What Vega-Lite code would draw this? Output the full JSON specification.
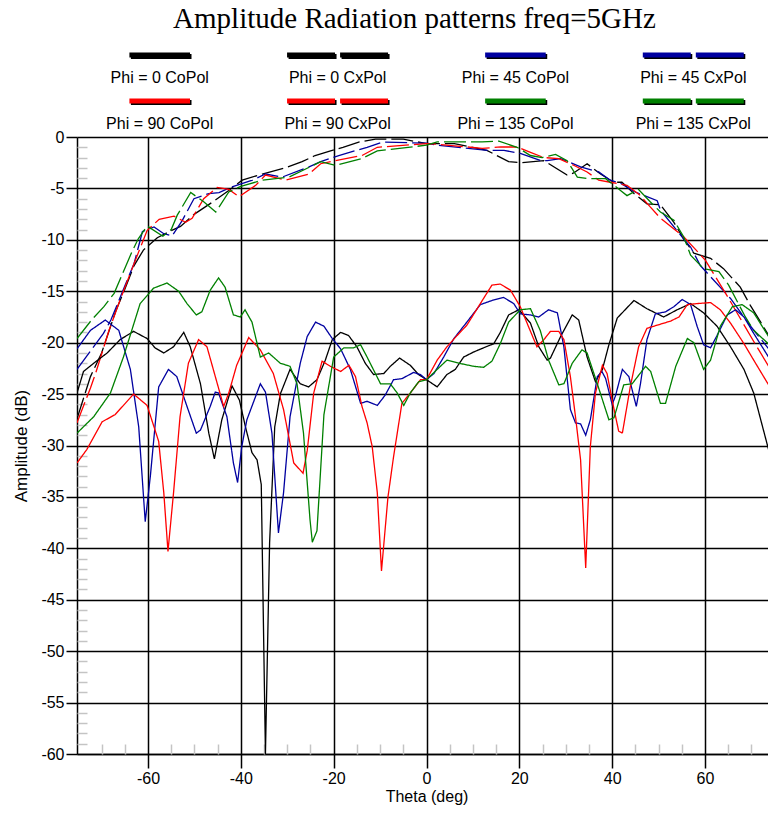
{
"$schema": "https://vega.github.io/schema/vega-lite/v6.json",
"background": "white",
"padding": {"left": 12, "top": 5, "right": 0, "bottom": 4},
"title": {"text": "Amplitude Radiation patterns freq=5GHz", "font": "Liberation Serif", "fontSize": 29, "fontWeight": "normal", "color": "#000", "anchor": "middle", "offset": -2, "dx": 20},
"bounds": "flush",
"spacing": 13,
"config": {"view": {"stroke": null}},
"datasets": {
"legend": [
{"series": "Phi = 0 CoPol", "col": 1, "row": 1},
{"series": "Phi = 0 CxPol", "col": 2, "row": 1},
{"series": "Phi = 45 CoPol", "col": 3, "row": 1},
{"series": "Phi = 45 CxPol", "col": 4, "row": 1},
{"series": "Phi = 90 CoPol", "col": 1, "row": 2},
{"series": "Phi = 90 CxPol", "col": 2, "row": 2},
{"series": "Phi = 135 CoPol", "col": 3, "row": 2},
{"series": "Phi = 135 CxPol", "col": 4, "row": 2}
],
"curves": [
{"series":"Phi = 0 CoPol","theta":-75.3,"dB":-27.4},{"series":"Phi = 0 CoPol","theta":-72.4,"dB":-23.3},{"series":"Phi = 0 CoPol","theta":-70,"dB":-21},{"series":"Phi = 0 CoPol","theta":-68.8,"dB":-19.4},{"series":"Phi = 0 CoPol","theta":-67,"dB":-17},{"series":"Phi = 0 CoPol","theta":-65,"dB":-14.8},{"series":"Phi = 0 CoPol","theta":-63,"dB":-12.5},{"series":"Phi = 0 CoPol","theta":-61,"dB":-11},{"series":"Phi = 0 CoPol","theta":-58,"dB":-9.8},{"series":"Phi = 0 CoPol","theta":-55,"dB":-9.1},{"series":"Phi = 0 CoPol","theta":-53,"dB":-8.7},{"series":"Phi = 0 CoPol","theta":-50,"dB":-7.5},{"series":"Phi = 0 CoPol","theta":-46,"dB":-6.3},{"series":"Phi = 0 CoPol","theta":-42.6,"dB":-5.2},{"series":"Phi = 0 CoPol","theta":-39.7,"dB":-4.2},{"series":"Phi = 0 CoPol","theta":-35.4,"dB":-3.6},{"series":"Phi = 0 CoPol","theta":-30.4,"dB":-3},{"series":"Phi = 0 CoPol","theta":-26.8,"dB":-2.4},{"series":"Phi = 0 CoPol","theta":-24,"dB":-1.8},{"series":"Phi = 0 CoPol","theta":-18,"dB":-1},{"series":"Phi = 0 CoPol","theta":-14.6,"dB":-0.5},{"series":"Phi = 0 CoPol","theta":-11,"dB":-0.2},{"series":"Phi = 0 CoPol","theta":-5,"dB":-0.2},{"series":"Phi = 0 CoPol","theta":0,"dB":-0.65},{"series":"Phi = 0 CoPol","theta":6,"dB":-0.65},{"series":"Phi = 0 CoPol","theta":13,"dB":-1.3},{"series":"Phi = 0 CoPol","theta":17.7,"dB":-2.4},{"series":"Phi = 0 CoPol","theta":20.2,"dB":-2.5},{"series":"Phi = 0 CoPol","theta":25.3,"dB":-2.3},{"series":"Phi = 0 CoPol","theta":30.3,"dB":-3.7},{"series":"Phi = 0 CoPol","theta":31.7,"dB":-3.5},{"series":"Phi = 0 CoPol","theta":34.6,"dB":-2.6},{"series":"Phi = 0 CoPol","theta":37.5,"dB":-3.6},{"series":"Phi = 0 CoPol","theta":40.3,"dB":-4.4},{"series":"Phi = 0 CoPol","theta":42.1,"dB":-4.4},{"series":"Phi = 0 CoPol","theta":44.7,"dB":-5.5},{"series":"Phi = 0 CoPol","theta":47.5,"dB":-6.5},{"series":"Phi = 0 CoPol","theta":50.4,"dB":-6.6},{"series":"Phi = 0 CoPol","theta":53.3,"dB":-8.3},{"series":"Phi = 0 CoPol","theta":55.4,"dB":-9.9},{"series":"Phi = 0 CoPol","theta":57.6,"dB":-11.3},{"series":"Phi = 0 CoPol","theta":61.2,"dB":-11.8},{"series":"Phi = 0 CoPol","theta":64,"dB":-12.8},{"series":"Phi = 0 CoPol","theta":67.6,"dB":-14.6},{"series":"Phi = 0 CoPol","theta":69.8,"dB":-16.4},{"series":"Phi = 0 CoPol","theta":72,"dB":-18},{"series":"Phi = 0 CoPol","theta":75.3,"dB":-20.5},
{"series":"Phi = 45 CoPol","theta":-75.3,"dB":-22.6},{"series":"Phi = 45 CoPol","theta":-69.6,"dB":-19.1},{"series":"Phi = 45 CoPol","theta":-68,"dB":-17.8},{"series":"Phi = 45 CoPol","theta":-65,"dB":-14.5},{"series":"Phi = 45 CoPol","theta":-63,"dB":-12.3},{"series":"Phi = 45 CoPol","theta":-61.2,"dB":-9.2},{"series":"Phi = 45 CoPol","theta":-58.7,"dB":-8.75},{"series":"Phi = 45 CoPol","theta":-56.6,"dB":-9.4},{"series":"Phi = 45 CoPol","theta":-54.8,"dB":-9.6},{"series":"Phi = 45 CoPol","theta":-52.6,"dB":-8.1},{"series":"Phi = 45 CoPol","theta":-50.1,"dB":-6},{"series":"Phi = 45 CoPol","theta":-46.9,"dB":-5.5},{"series":"Phi = 45 CoPol","theta":-44.7,"dB":-5.4},{"series":"Phi = 45 CoPol","theta":-41.9,"dB":-4.85},{"series":"Phi = 45 CoPol","theta":-37.5,"dB":-4.2},{"series":"Phi = 45 CoPol","theta":-34.7,"dB":-3.6},{"series":"Phi = 45 CoPol","theta":-31.1,"dB":-3.9},{"series":"Phi = 45 CoPol","theta":-25.3,"dB":-2.9},{"series":"Phi = 45 CoPol","theta":-22.8,"dB":-2.4},{"series":"Phi = 45 CoPol","theta":-18.9,"dB":-1.8},{"series":"Phi = 45 CoPol","theta":-12.8,"dB":-1},{"series":"Phi = 45 CoPol","theta":-9.5,"dB":-0.5},{"series":"Phi = 45 CoPol","theta":0,"dB":-0.6},{"series":"Phi = 45 CoPol","theta":2.3,"dB":-0.8},{"series":"Phi = 45 CoPol","theta":13.1,"dB":-1.3},{"series":"Phi = 45 CoPol","theta":16.7,"dB":-1.3},{"series":"Phi = 45 CoPol","theta":20.2,"dB":-1.6},{"series":"Phi = 45 CoPol","theta":24.6,"dB":-2.3},{"series":"Phi = 45 CoPol","theta":26,"dB":-2.3},{"series":"Phi = 45 CoPol","theta":28.9,"dB":-2.1},{"series":"Phi = 45 CoPol","theta":33.2,"dB":-2.9},{"series":"Phi = 45 CoPol","theta":37.1,"dB":-3.4},{"series":"Phi = 45 CoPol","theta":39.6,"dB":-4.2},{"series":"Phi = 45 CoPol","theta":41.8,"dB":-4.5},{"series":"Phi = 45 CoPol","theta":44.7,"dB":-5.3},{"series":"Phi = 45 CoPol","theta":49.7,"dB":-6.2},{"series":"Phi = 45 CoPol","theta":50.4,"dB":-7.1},{"series":"Phi = 45 CoPol","theta":55.4,"dB":-9.9},{"series":"Phi = 45 CoPol","theta":56.9,"dB":-10.7},{"series":"Phi = 45 CoPol","theta":59,"dB":-12.5},{"series":"Phi = 45 CoPol","theta":65.5,"dB":-15.7},{"series":"Phi = 45 CoPol","theta":70,"dB":-18.5},{"series":"Phi = 45 CoPol","theta":75.3,"dB":-21.5},
{"series":"Phi = 90 CoPol","theta":-75.3,"dB":-27.8},{"series":"Phi = 90 CoPol","theta":-72.4,"dB":-24.4},{"series":"Phi = 90 CoPol","theta":-71.3,"dB":-23},{"series":"Phi = 90 CoPol","theta":-68.4,"dB":-18.8},{"series":"Phi = 90 CoPol","theta":-66.3,"dB":-16.2},{"series":"Phi = 90 CoPol","theta":-63,"dB":-12.3},{"series":"Phi = 90 CoPol","theta":-60.2,"dB":-9.1},{"series":"Phi = 90 CoPol","theta":-57.6,"dB":-8},{"series":"Phi = 90 CoPol","theta":-54.4,"dB":-7.7},{"series":"Phi = 90 CoPol","theta":-51.9,"dB":-8.3},{"series":"Phi = 90 CoPol","theta":-50.5,"dB":-7.9},{"series":"Phi = 90 CoPol","theta":-48,"dB":-6},{"series":"Phi = 90 CoPol","theta":-45.1,"dB":-4.9},{"series":"Phi = 90 CoPol","theta":-42.6,"dB":-5.1},{"series":"Phi = 90 CoPol","theta":-40.4,"dB":-5.8},{"series":"Phi = 90 CoPol","theta":-36.8,"dB":-4.7},{"series":"Phi = 90 CoPol","theta":-34.7,"dB":-3.7},{"series":"Phi = 90 CoPol","theta":-30.4,"dB":-4.2},{"series":"Phi = 90 CoPol","theta":-25.3,"dB":-3.6},{"series":"Phi = 90 CoPol","theta":-22.8,"dB":-2.6},{"series":"Phi = 90 CoPol","theta":-19.6,"dB":-2.3},{"series":"Phi = 90 CoPol","theta":-13.9,"dB":-1.8},{"series":"Phi = 90 CoPol","theta":-10.6,"dB":-1},{"series":"Phi = 90 CoPol","theta":0,"dB":-0.65},{"series":"Phi = 90 CoPol","theta":2.3,"dB":-0.7},{"series":"Phi = 90 CoPol","theta":12,"dB":-1.1},{"series":"Phi = 90 CoPol","theta":16,"dB":-0.97},{"series":"Phi = 90 CoPol","theta":19.5,"dB":-0.97},{"series":"Phi = 90 CoPol","theta":22.4,"dB":-1.5},{"series":"Phi = 90 CoPol","theta":25.3,"dB":-2},{"series":"Phi = 90 CoPol","theta":28.5,"dB":-2.1},{"series":"Phi = 90 CoPol","theta":31.7,"dB":-2.75},{"series":"Phi = 90 CoPol","theta":34.6,"dB":-3.4},{"series":"Phi = 90 CoPol","theta":37.1,"dB":-4.2},{"series":"Phi = 90 CoPol","theta":39.6,"dB":-4.4},{"series":"Phi = 90 CoPol","theta":43.2,"dB":-4.7},{"series":"Phi = 90 CoPol","theta":46.1,"dB":-5.7},{"series":"Phi = 90 CoPol","theta":48.2,"dB":-6.8},{"series":"Phi = 90 CoPol","theta":50.4,"dB":-7.9},{"series":"Phi = 90 CoPol","theta":55.4,"dB":-9.7},{"series":"Phi = 90 CoPol","theta":57.9,"dB":-10.9},{"series":"Phi = 90 CoPol","theta":60.1,"dB":-12},{"series":"Phi = 90 CoPol","theta":65.1,"dB":-15.7},{"series":"Phi = 90 CoPol","theta":70,"dB":-19.5},{"series":"Phi = 90 CoPol","theta":75.3,"dB":-23.5},
{"series":"Phi = 135 CoPol","theta":-75.3,"dB":-19.6},{"series":"Phi = 135 CoPol","theta":-72,"dB":-17.7},{"series":"Phi = 135 CoPol","theta":-69.5,"dB":-16.5},{"series":"Phi = 135 CoPol","theta":-67.3,"dB":-15.2},{"series":"Phi = 135 CoPol","theta":-63.5,"dB":-11.2},{"series":"Phi = 135 CoPol","theta":-62.1,"dB":-9.9},{"series":"Phi = 135 CoPol","theta":-60.2,"dB":-8.65},{"series":"Phi = 135 CoPol","theta":-56.8,"dB":-9.65},{"series":"Phi = 135 CoPol","theta":-55,"dB":-9},{"series":"Phi = 135 CoPol","theta":-53.7,"dB":-7.6},{"series":"Phi = 135 CoPol","theta":-50.8,"dB":-5.4},{"series":"Phi = 135 CoPol","theta":-48,"dB":-6.3},{"series":"Phi = 135 CoPol","theta":-45.4,"dB":-7.3},{"series":"Phi = 135 CoPol","theta":-42.6,"dB":-5.35},{"series":"Phi = 135 CoPol","theta":-40,"dB":-4.8},{"series":"Phi = 135 CoPol","theta":-35.4,"dB":-4.2},{"series":"Phi = 135 CoPol","theta":-29.6,"dB":-3.9},{"series":"Phi = 135 CoPol","theta":-22.8,"dB":-2.4},{"series":"Phi = 135 CoPol","theta":-19.6,"dB":-2.75},{"series":"Phi = 135 CoPol","theta":-13.9,"dB":-2.1},{"series":"Phi = 135 CoPol","theta":-10.6,"dB":-1.35},{"series":"Phi = 135 CoPol","theta":0,"dB":-0.8},{"series":"Phi = 135 CoPol","theta":2.3,"dB":-0.48},{"series":"Phi = 135 CoPol","theta":12,"dB":-0.48},{"series":"Phi = 135 CoPol","theta":15.6,"dB":-0.4},{"series":"Phi = 135 CoPol","theta":19.5,"dB":-1},{"series":"Phi = 135 CoPol","theta":22.4,"dB":-1.8},{"series":"Phi = 135 CoPol","theta":24.9,"dB":-2},{"series":"Phi = 135 CoPol","theta":27.8,"dB":-1.7},{"series":"Phi = 135 CoPol","theta":30.3,"dB":-2.3},{"series":"Phi = 135 CoPol","theta":32.5,"dB":-3.9},{"series":"Phi = 135 CoPol","theta":35,"dB":-4.05},{"series":"Phi = 135 CoPol","theta":38.6,"dB":-4.05},{"series":"Phi = 135 CoPol","theta":41.8,"dB":-5.2},{"series":"Phi = 135 CoPol","theta":43.2,"dB":-5.7},{"series":"Phi = 135 CoPol","theta":45.7,"dB":-5.1},{"series":"Phi = 135 CoPol","theta":48.2,"dB":-6.3},{"series":"Phi = 135 CoPol","theta":50.4,"dB":-7.3},{"series":"Phi = 135 CoPol","theta":53.3,"dB":-8.1},{"series":"Phi = 135 CoPol","theta":55.4,"dB":-9.7},{"series":"Phi = 135 CoPol","theta":56.9,"dB":-11.5},{"series":"Phi = 135 CoPol","theta":59.7,"dB":-12.8},{"series":"Phi = 135 CoPol","theta":63,"dB":-13.1},{"series":"Phi = 135 CoPol","theta":65.1,"dB":-14.4},{"series":"Phi = 135 CoPol","theta":68.7,"dB":-17.5},{"series":"Phi = 135 CoPol","theta":70.5,"dB":-18.8},{"series":"Phi = 135 CoPol","theta":75.3,"dB":-20.8},
{"series":"Phi = 0 CxPol","theta":-75.3,"dB":-24.9},{"series":"Phi = 0 CxPol","theta":-73.9,"dB":-22.8},{"series":"Phi = 0 CxPol","theta":-71.7,"dB":-22},{"series":"Phi = 0 CxPol","theta":-68.8,"dB":-21},{"series":"Phi = 0 CxPol","theta":-66,"dB":-19.7},{"series":"Phi = 0 CxPol","theta":-63.1,"dB":-18.9},{"series":"Phi = 0 CxPol","theta":-60.2,"dB":-19.6},{"series":"Phi = 0 CxPol","theta":-58.5,"dB":-20.5},{"series":"Phi = 0 CxPol","theta":-56.6,"dB":-21},{"series":"Phi = 0 CxPol","theta":-54.5,"dB":-20.4},{"series":"Phi = 0 CxPol","theta":-52.3,"dB":-19},{"series":"Phi = 0 CxPol","theta":-50.9,"dB":-20.4},{"series":"Phi = 0 CxPol","theta":-48.7,"dB":-24},{"series":"Phi = 0 CxPol","theta":-46.9,"dB":-28.8},{"series":"Phi = 0 CxPol","theta":-45.7,"dB":-31.3},{"series":"Phi = 0 CxPol","theta":-44.1,"dB":-27.5},{"series":"Phi = 0 CxPol","theta":-41.9,"dB":-24.2},{"series":"Phi = 0 CxPol","theta":-40.3,"dB":-25.6},{"series":"Phi = 0 CxPol","theta":-39,"dB":-28.2},{"series":"Phi = 0 CxPol","theta":-37.6,"dB":-30.7},{"series":"Phi = 0 CxPol","theta":-36.5,"dB":-31.4},{"series":"Phi = 0 CxPol","theta":-35.6,"dB":-33.8},{"series":"Phi = 0 CxPol","theta":-34.7,"dB":-60},{"series":"Phi = 0 CxPol","theta":-33.8,"dB":-39.4},{"series":"Phi = 0 CxPol","theta":-32.7,"dB":-28.2},{"series":"Phi = 0 CxPol","theta":-31.5,"dB":-25},{"series":"Phi = 0 CxPol","theta":-29.4,"dB":-22.6},{"series":"Phi = 0 CxPol","theta":-27.2,"dB":-24},{"series":"Phi = 0 CxPol","theta":-25.4,"dB":-24.3},{"series":"Phi = 0 CxPol","theta":-23.6,"dB":-23.6},{"series":"Phi = 0 CxPol","theta":-21.8,"dB":-21.7},{"series":"Phi = 0 CxPol","theta":-20.3,"dB":-19.7},{"series":"Phi = 0 CxPol","theta":-18.5,"dB":-19},{"series":"Phi = 0 CxPol","theta":-16.8,"dB":-19.3},{"series":"Phi = 0 CxPol","theta":-15,"dB":-20.4},{"series":"Phi = 0 CxPol","theta":-13.2,"dB":-22},{"series":"Phi = 0 CxPol","theta":-11.4,"dB":-23.1},{"series":"Phi = 0 CxPol","theta":-9.2,"dB":-23},{"series":"Phi = 0 CxPol","theta":-7.8,"dB":-22.3},{"series":"Phi = 0 CxPol","theta":-5.8,"dB":-21.5},{"series":"Phi = 0 CxPol","theta":-3.5,"dB":-22.2},{"series":"Phi = 0 CxPol","theta":-1.7,"dB":-23.1},{"series":"Phi = 0 CxPol","theta":0,"dB":-23.6},{"series":"Phi = 0 CxPol","theta":2.3,"dB":-24.3},{"series":"Phi = 0 CxPol","theta":4.4,"dB":-23.1},{"series":"Phi = 0 CxPol","theta":6.2,"dB":-22.6},{"series":"Phi = 0 CxPol","theta":8,"dB":-21.4},{"series":"Phi = 0 CxPol","theta":10.2,"dB":-20.9},{"series":"Phi = 0 CxPol","theta":12.3,"dB":-20.5},{"series":"Phi = 0 CxPol","theta":14.5,"dB":-20.1},{"series":"Phi = 0 CxPol","theta":15.9,"dB":-19},{"series":"Phi = 0 CxPol","theta":17.7,"dB":-17.3},{"series":"Phi = 0 CxPol","theta":19.9,"dB":-16.8},{"series":"Phi = 0 CxPol","theta":22.4,"dB":-18.1},{"series":"Phi = 0 CxPol","theta":24.2,"dB":-20.4},{"series":"Phi = 0 CxPol","theta":26,"dB":-21.7},{"series":"Phi = 0 CxPol","theta":26.7,"dB":-21.5},{"series":"Phi = 0 CxPol","theta":28.9,"dB":-19.4},{"series":"Phi = 0 CxPol","theta":31.4,"dB":-17.3},{"series":"Phi = 0 CxPol","theta":32.8,"dB":-17.8},{"series":"Phi = 0 CxPol","theta":34.6,"dB":-21.4},{"series":"Phi = 0 CxPol","theta":36.4,"dB":-23.8},{"series":"Phi = 0 CxPol","theta":37.9,"dB":-22.6},{"series":"Phi = 0 CxPol","theta":39.3,"dB":-20.2},{"series":"Phi = 0 CxPol","theta":41.1,"dB":-17.6},{"series":"Phi = 0 CxPol","theta":44.7,"dB":-15.9},{"series":"Phi = 0 CxPol","theta":47.5,"dB":-16.7},{"series":"Phi = 0 CxPol","theta":51.1,"dB":-17.5},{"series":"Phi = 0 CxPol","theta":54,"dB":-16.8},{"series":"Phi = 0 CxPol","theta":56.9,"dB":-16.2},{"series":"Phi = 0 CxPol","theta":59.7,"dB":-17.1},{"series":"Phi = 0 CxPol","theta":62.6,"dB":-18.4},{"series":"Phi = 0 CxPol","theta":65.5,"dB":-20.4},{"series":"Phi = 0 CxPol","theta":68.4,"dB":-22.6},{"series":"Phi = 0 CxPol","theta":70.5,"dB":-24.9},{"series":"Phi = 0 CxPol","theta":73.7,"dB":-30.4},{"series":"Phi = 0 CxPol","theta":75.3,"dB":-32.2},
{"series":"Phi = 45 CxPol","theta":-75.3,"dB":-20.6},{"series":"Phi = 45 CxPol","theta":-72.4,"dB":-18.8},{"series":"Phi = 45 CxPol","theta":-69.2,"dB":-17.8},{"series":"Phi = 45 CxPol","theta":-66.3,"dB":-18.8},{"series":"Phi = 45 CxPol","theta":-63.8,"dB":-22.6},{"series":"Phi = 45 CxPol","theta":-62,"dB":-28.2},{"series":"Phi = 45 CxPol","theta":-60.6,"dB":-37.4},{"series":"Phi = 45 CxPol","theta":-59.5,"dB":-33},{"series":"Phi = 45 CxPol","theta":-57.7,"dB":-24.3},{"series":"Phi = 45 CxPol","theta":-55.6,"dB":-22.6},{"series":"Phi = 45 CxPol","theta":-53.8,"dB":-23.3},{"series":"Phi = 45 CxPol","theta":-51.6,"dB":-26.2},{"series":"Phi = 45 CxPol","theta":-49.6,"dB":-28.8},{"series":"Phi = 45 CxPol","theta":-48.7,"dB":-28.5},{"series":"Phi = 45 CxPol","theta":-46.6,"dB":-26.2},{"series":"Phi = 45 CxPol","theta":-45.5,"dB":-24.8},{"series":"Phi = 45 CxPol","theta":-44.8,"dB":-24.9},{"series":"Phi = 45 CxPol","theta":-43,"dB":-27.2},{"series":"Phi = 45 CxPol","theta":-41.6,"dB":-31.7},{"series":"Phi = 45 CxPol","theta":-40.7,"dB":-33.6},{"series":"Phi = 45 CxPol","theta":-39.8,"dB":-30.1},{"series":"Phi = 45 CxPol","theta":-38.7,"dB":-27.5},{"series":"Phi = 45 CxPol","theta":-35.8,"dB":-24},{"series":"Phi = 45 CxPol","theta":-34.7,"dB":-24.8},{"series":"Phi = 45 CxPol","theta":-33.3,"dB":-28.8},{"series":"Phi = 45 CxPol","theta":-31.9,"dB":-38.5},{"series":"Phi = 45 CxPol","theta":-30.8,"dB":-34.6},{"series":"Phi = 45 CxPol","theta":-29.4,"dB":-27.2},{"series":"Phi = 45 CxPol","theta":-27.2,"dB":-22},{"series":"Phi = 45 CxPol","theta":-25.7,"dB":-19.4},{"series":"Phi = 45 CxPol","theta":-23.9,"dB":-18},{"series":"Phi = 45 CxPol","theta":-22.1,"dB":-18.4},{"series":"Phi = 45 CxPol","theta":-20.3,"dB":-19.6},{"series":"Phi = 45 CxPol","theta":-18.5,"dB":-20.6},{"series":"Phi = 45 CxPol","theta":-16.4,"dB":-22.6},{"series":"Phi = 45 CxPol","theta":-14.2,"dB":-25.9},{"series":"Phi = 45 CxPol","theta":-12.8,"dB":-25.7},{"series":"Phi = 45 CxPol","theta":-10.6,"dB":-26.1},{"series":"Phi = 45 CxPol","theta":-8.9,"dB":-25.1},{"series":"Phi = 45 CxPol","theta":-7.1,"dB":-23.6},{"series":"Phi = 45 CxPol","theta":-5.3,"dB":-23.5},{"series":"Phi = 45 CxPol","theta":-2.8,"dB":-22.9},{"series":"Phi = 45 CxPol","theta":-1.3,"dB":-23.1},{"series":"Phi = 45 CxPol","theta":0,"dB":-23.6},{"series":"Phi = 45 CxPol","theta":1.6,"dB":-23},{"series":"Phi = 45 CxPol","theta":3.7,"dB":-21.4},{"series":"Phi = 45 CxPol","theta":5.9,"dB":-19.6},{"series":"Phi = 45 CxPol","theta":8.7,"dB":-18},{"series":"Phi = 45 CxPol","theta":11.6,"dB":-16.3},{"series":"Phi = 45 CxPol","theta":14.1,"dB":-15.9},{"series":"Phi = 45 CxPol","theta":16.6,"dB":-15.6},{"series":"Phi = 45 CxPol","theta":18.8,"dB":-16.2},{"series":"Phi = 45 CxPol","theta":20.2,"dB":-17.2},{"series":"Phi = 45 CxPol","theta":22.4,"dB":-17.3},{"series":"Phi = 45 CxPol","theta":24.2,"dB":-17.5},{"series":"Phi = 45 CxPol","theta":26.3,"dB":-16.8},{"series":"Phi = 45 CxPol","theta":28.2,"dB":-17.1},{"series":"Phi = 45 CxPol","theta":29.6,"dB":-20.4},{"series":"Phi = 45 CxPol","theta":31,"dB":-26.5},{"series":"Phi = 45 CxPol","theta":32.1,"dB":-27.8},{"series":"Phi = 45 CxPol","theta":33.2,"dB":-27.9},{"series":"Phi = 45 CxPol","theta":34.3,"dB":-29},{"series":"Phi = 45 CxPol","theta":35.3,"dB":-27.5},{"series":"Phi = 45 CxPol","theta":36.8,"dB":-23.3},{"series":"Phi = 45 CxPol","theta":37.8,"dB":-22.8},{"series":"Phi = 45 CxPol","theta":38.6,"dB":-23.5},{"series":"Phi = 45 CxPol","theta":40,"dB":-26},{"series":"Phi = 45 CxPol","theta":40.7,"dB":-25.2},{"series":"Phi = 45 CxPol","theta":42.2,"dB":-22.6},{"series":"Phi = 45 CxPol","theta":43.6,"dB":-23.3},{"series":"Phi = 45 CxPol","theta":45.2,"dB":-26.2},{"series":"Phi = 45 CxPol","theta":46.1,"dB":-24},{"series":"Phi = 45 CxPol","theta":47.5,"dB":-19.7},{"series":"Phi = 45 CxPol","theta":49.3,"dB":-17.2},{"series":"Phi = 45 CxPol","theta":51.5,"dB":-17},{"series":"Phi = 45 CxPol","theta":53.3,"dB":-16.5},{"series":"Phi = 45 CxPol","theta":55.1,"dB":-15.8},{"series":"Phi = 45 CxPol","theta":56.9,"dB":-16.3},{"series":"Phi = 45 CxPol","theta":58.3,"dB":-18.4},{"series":"Phi = 45 CxPol","theta":59.7,"dB":-20.2},{"series":"Phi = 45 CxPol","theta":61.2,"dB":-20.5},{"series":"Phi = 45 CxPol","theta":62.6,"dB":-19.3},{"series":"Phi = 45 CxPol","theta":64.8,"dB":-17.3},{"series":"Phi = 45 CxPol","theta":66.6,"dB":-16.8},{"series":"Phi = 45 CxPol","theta":68.4,"dB":-17.5},{"series":"Phi = 45 CxPol","theta":70.5,"dB":-19.1},{"series":"Phi = 45 CxPol","theta":73.7,"dB":-21.4},{"series":"Phi = 45 CxPol","theta":75.3,"dB":-22.2},
{"series":"Phi = 90 CxPol","theta":-75.3,"dB":-31.7},{"series":"Phi = 90 CxPol","theta":-73.2,"dB":-30.4},{"series":"Phi = 90 CxPol","theta":-69.9,"dB":-27.7},{"series":"Phi = 90 CxPol","theta":-67.1,"dB":-27},{"series":"Phi = 90 CxPol","theta":-63.1,"dB":-25},{"series":"Phi = 90 CxPol","theta":-60.2,"dB":-26.1},{"series":"Phi = 90 CxPol","theta":-57.7,"dB":-29.6},{"series":"Phi = 90 CxPol","theta":-56.6,"dB":-34.6},{"series":"Phi = 90 CxPol","theta":-55.7,"dB":-40.3},{"series":"Phi = 90 CxPol","theta":-54.5,"dB":-34.6},{"series":"Phi = 90 CxPol","theta":-53.1,"dB":-27.2},{"series":"Phi = 90 CxPol","theta":-51.3,"dB":-22},{"series":"Phi = 90 CxPol","theta":-49.1,"dB":-19.7},{"series":"Phi = 90 CxPol","theta":-47.3,"dB":-20.4},{"series":"Phi = 90 CxPol","theta":-45.5,"dB":-23.3},{"series":"Phi = 90 CxPol","theta":-43.7,"dB":-26.2},{"series":"Phi = 90 CxPol","theta":-42.6,"dB":-24.9},{"series":"Phi = 90 CxPol","theta":-40.9,"dB":-22.2},{"series":"Phi = 90 CxPol","theta":-38.3,"dB":-19.5},{"series":"Phi = 90 CxPol","theta":-35.8,"dB":-20.7},{"series":"Phi = 90 CxPol","theta":-33,"dB":-23},{"series":"Phi = 90 CxPol","theta":-30.8,"dB":-26.5},{"series":"Phi = 90 CxPol","theta":-28.6,"dB":-31.7},{"series":"Phi = 90 CxPol","theta":-26.6,"dB":-32.7},{"series":"Phi = 90 CxPol","theta":-25.7,"dB":-30.5},{"series":"Phi = 90 CxPol","theta":-24.3,"dB":-24.9},{"series":"Phi = 90 CxPol","theta":-22.5,"dB":-21.8},{"series":"Phi = 90 CxPol","theta":-20.7,"dB":-22.3},{"series":"Phi = 90 CxPol","theta":-18.5,"dB":-22.8},{"series":"Phi = 90 CxPol","theta":-16.7,"dB":-22.2},{"series":"Phi = 90 CxPol","theta":-15.3,"dB":-23.3},{"series":"Phi = 90 CxPol","theta":-13.9,"dB":-26.2},{"series":"Phi = 90 CxPol","theta":-12.8,"dB":-27.8},{"series":"Phi = 90 CxPol","theta":-11.7,"dB":-30.1},{"series":"Phi = 90 CxPol","theta":-10.6,"dB":-34.6},{"series":"Phi = 90 CxPol","theta":-9.7,"dB":-42.2},{"series":"Phi = 90 CxPol","theta":-8.3,"dB":-35},{"series":"Phi = 90 CxPol","theta":-7.1,"dB":-31.1},{"series":"Phi = 90 CxPol","theta":-5.3,"dB":-25.9},{"series":"Phi = 90 CxPol","theta":-3.5,"dB":-24.9},{"series":"Phi = 90 CxPol","theta":-1.3,"dB":-23.6},{"series":"Phi = 90 CxPol","theta":0,"dB":-23.6},{"series":"Phi = 90 CxPol","theta":2.3,"dB":-21.7},{"series":"Phi = 90 CxPol","theta":4.4,"dB":-20.4},{"series":"Phi = 90 CxPol","theta":6.6,"dB":-19.3},{"series":"Phi = 90 CxPol","theta":8.7,"dB":-18.3},{"series":"Phi = 90 CxPol","theta":11.6,"dB":-16.2},{"series":"Phi = 90 CxPol","theta":14.1,"dB":-14.4},{"series":"Phi = 90 CxPol","theta":15.9,"dB":-14.3},{"series":"Phi = 90 CxPol","theta":18.1,"dB":-14.9},{"series":"Phi = 90 CxPol","theta":20.2,"dB":-16.5},{"series":"Phi = 90 CxPol","theta":22.4,"dB":-18.9},{"series":"Phi = 90 CxPol","theta":23.8,"dB":-20.4},{"series":"Phi = 90 CxPol","theta":25.3,"dB":-19.7},{"series":"Phi = 90 CxPol","theta":26.7,"dB":-18.9},{"series":"Phi = 90 CxPol","theta":28.5,"dB":-18.9},{"series":"Phi = 90 CxPol","theta":29.6,"dB":-19.7},{"series":"Phi = 90 CxPol","theta":31,"dB":-23.3},{"series":"Phi = 90 CxPol","theta":32.1,"dB":-27.2},{"series":"Phi = 90 CxPol","theta":33.2,"dB":-31.4},{"series":"Phi = 90 CxPol","theta":34.3,"dB":-41.9},{"series":"Phi = 90 CxPol","theta":35.3,"dB":-30.1},{"series":"Phi = 90 CxPol","theta":36.4,"dB":-24.9},{"series":"Phi = 90 CxPol","theta":37.9,"dB":-22.2},{"series":"Phi = 90 CxPol","theta":38.9,"dB":-23},{"series":"Phi = 90 CxPol","theta":40,"dB":-25.6},{"series":"Phi = 90 CxPol","theta":41.4,"dB":-28.6},{"series":"Phi = 90 CxPol","theta":42.2,"dB":-28.8},{"series":"Phi = 90 CxPol","theta":43.9,"dB":-24.3},{"series":"Phi = 90 CxPol","theta":45.7,"dB":-20.4},{"series":"Phi = 90 CxPol","theta":47.5,"dB":-18.6},{"series":"Phi = 90 CxPol","theta":49.7,"dB":-18.3},{"series":"Phi = 90 CxPol","theta":52.6,"dB":-17.9},{"series":"Phi = 90 CxPol","theta":54.4,"dB":-17.5},{"series":"Phi = 90 CxPol","theta":56.2,"dB":-16.3},{"series":"Phi = 90 CxPol","theta":58.3,"dB":-16.2},{"series":"Phi = 90 CxPol","theta":61.2,"dB":-16.1},{"series":"Phi = 90 CxPol","theta":63.3,"dB":-16.8},{"series":"Phi = 90 CxPol","theta":65.5,"dB":-18.1},{"series":"Phi = 90 CxPol","theta":68.4,"dB":-20.1},{"series":"Phi = 90 CxPol","theta":70.5,"dB":-21.7},{"series":"Phi = 90 CxPol","theta":73.7,"dB":-24.1},{"series":"Phi = 90 CxPol","theta":75.3,"dB":-25.2},
{"series":"Phi = 135 CxPol","theta":-75.3,"dB":-28.8},{"series":"Phi = 135 CxPol","theta":-71.7,"dB":-27.2},{"series":"Phi = 135 CxPol","theta":-68.1,"dB":-24.9},{"series":"Phi = 135 CxPol","theta":-65.3,"dB":-21.4},{"series":"Phi = 135 CxPol","theta":-61.7,"dB":-16.2},{"series":"Phi = 135 CxPol","theta":-58.8,"dB":-14.7},{"series":"Phi = 135 CxPol","theta":-55.9,"dB":-14.2},{"series":"Phi = 135 CxPol","theta":-53.4,"dB":-15},{"series":"Phi = 135 CxPol","theta":-51.6,"dB":-16.2},{"series":"Phi = 135 CxPol","theta":-49.6,"dB":-17.3},{"series":"Phi = 135 CxPol","theta":-48.4,"dB":-17},{"series":"Phi = 135 CxPol","theta":-46.6,"dB":-14.9},{"series":"Phi = 135 CxPol","theta":-44.8,"dB":-13.7},{"series":"Phi = 135 CxPol","theta":-43.4,"dB":-14.6},{"series":"Phi = 135 CxPol","theta":-41.6,"dB":-17.3},{"series":"Phi = 135 CxPol","theta":-40.1,"dB":-17.5},{"series":"Phi = 135 CxPol","theta":-39.1,"dB":-16.8},{"series":"Phi = 135 CxPol","theta":-37.6,"dB":-18},{"series":"Phi = 135 CxPol","theta":-35.8,"dB":-21.4},{"series":"Phi = 135 CxPol","theta":-34,"dB":-21},{"series":"Phi = 135 CxPol","theta":-31.5,"dB":-22},{"series":"Phi = 135 CxPol","theta":-29.4,"dB":-22.3},{"series":"Phi = 135 CxPol","theta":-27.9,"dB":-24},{"series":"Phi = 135 CxPol","theta":-26.5,"dB":-28.8},{"series":"Phi = 135 CxPol","theta":-25.1,"dB":-37.2},{"series":"Phi = 135 CxPol","theta":-24.6,"dB":-39.4},{"series":"Phi = 135 CxPol","theta":-23.6,"dB":-38.3},{"series":"Phi = 135 CxPol","theta":-22.1,"dB":-27},{"series":"Phi = 135 CxPol","theta":-20,"dB":-21.4},{"series":"Phi = 135 CxPol","theta":-17.8,"dB":-20.5},{"series":"Phi = 135 CxPol","theta":-15.7,"dB":-20.5},{"series":"Phi = 135 CxPol","theta":-14.2,"dB":-20.2},{"series":"Phi = 135 CxPol","theta":-12.8,"dB":-21.4},{"series":"Phi = 135 CxPol","theta":-9.9,"dB":-24},{"series":"Phi = 135 CxPol","theta":-7.8,"dB":-24},{"series":"Phi = 135 CxPol","theta":-6.3,"dB":-24.9},{"series":"Phi = 135 CxPol","theta":-4.9,"dB":-26.1},{"series":"Phi = 135 CxPol","theta":-3.5,"dB":-24.9},{"series":"Phi = 135 CxPol","theta":-1.7,"dB":-23.8},{"series":"Phi = 135 CxPol","theta":0,"dB":-23.6},{"series":"Phi = 135 CxPol","theta":2.3,"dB":-22.6},{"series":"Phi = 135 CxPol","theta":4.4,"dB":-21.7},{"series":"Phi = 135 CxPol","theta":7,"dB":-22},{"series":"Phi = 135 CxPol","theta":10.2,"dB":-22.3},{"series":"Phi = 135 CxPol","theta":12.3,"dB":-22.4},{"series":"Phi = 135 CxPol","theta":14.1,"dB":-21.8},{"series":"Phi = 135 CxPol","theta":15.9,"dB":-20.1},{"series":"Phi = 135 CxPol","theta":17.7,"dB":-18},{"series":"Phi = 135 CxPol","theta":20.2,"dB":-16.8},{"series":"Phi = 135 CxPol","theta":22.4,"dB":-16.7},{"series":"Phi = 135 CxPol","theta":24.5,"dB":-18.8},{"series":"Phi = 135 CxPol","theta":26.3,"dB":-21.7},{"series":"Phi = 135 CxPol","theta":28.5,"dB":-24.1},{"series":"Phi = 135 CxPol","theta":29.6,"dB":-24},{"series":"Phi = 135 CxPol","theta":31.4,"dB":-22},{"series":"Phi = 135 CxPol","theta":33.5,"dB":-20.7},{"series":"Phi = 135 CxPol","theta":34.6,"dB":-21},{"series":"Phi = 135 CxPol","theta":36.8,"dB":-24},{"series":"Phi = 135 CxPol","theta":39.3,"dB":-27.5},{"series":"Phi = 135 CxPol","theta":40.4,"dB":-27.3},{"series":"Phi = 135 CxPol","theta":42.5,"dB":-24.1},{"series":"Phi = 135 CxPol","theta":44.3,"dB":-24},{"series":"Phi = 135 CxPol","theta":47.2,"dB":-22.3},{"series":"Phi = 135 CxPol","theta":48.3,"dB":-22.8},{"series":"Phi = 135 CxPol","theta":50.4,"dB":-25.9},{"series":"Phi = 135 CxPol","theta":51.5,"dB":-25.9},{"series":"Phi = 135 CxPol","theta":53.7,"dB":-22.3},{"series":"Phi = 135 CxPol","theta":56.2,"dB":-19.6},{"series":"Phi = 135 CxPol","theta":57.6,"dB":-20},{"series":"Phi = 135 CxPol","theta":59.7,"dB":-22.6},{"series":"Phi = 135 CxPol","theta":61.2,"dB":-21.7},{"series":"Phi = 135 CxPol","theta":63.3,"dB":-18.4},{"series":"Phi = 135 CxPol","theta":65.9,"dB":-16.5},{"series":"Phi = 135 CxPol","theta":68,"dB":-16.3},{"series":"Phi = 135 CxPol","theta":70.5,"dB":-17.1},{"series":"Phi = 135 CxPol","theta":73.7,"dB":-19.4},{"series":"Phi = 135 CxPol","theta":75.3,"dB":-20.3}
]
},
"vconcat": [
{
"width": 699, "height": 92,
"data": {"name": "legend"},
"encoding": {
"x": {"field": "col", "type": "ordinal", "scale": {"type": "point", "padding": 0.465}, "axis": null},
"y": {"field": "row", "type": "ordinal", "scale": {"type": "point", "padding": 0.5}, "axis": null}
},
"layer": [
{"mark": {"type": "point", "filled": false, "size": 10201, "strokeWidth": 5, "color": "#000", "stroke": "#000", "opacity": 1, "strokeCap": "butt", "xOffset": 1.5, "yOffset": 1.5},
 "encoding": {"shape": {"field": "series", "type": "nominal", "scale": {"domain": ["Phi = 0 CoPol","Phi = 0 CxPol","Phi = 45 CoPol","Phi = 45 CxPol","Phi = 90 CoPol","Phi = 90 CxPol","Phi = 135 CoPol","Phi = 135 CxPol"], "range": ["M-0.6,0H0.6","M-1,0H-0.05M0.05,0H1","M-0.6,0H0.6","M-1,0H-0.05M0.05,0H1","M-0.6,0H0.6","M-1,0H-0.05M0.05,0H1","M-0.6,0H0.6","M-1,0H-0.05M0.05,0H1"]}, "legend": null}}},
{"mark": {"type": "point", "filled": false, "size": 10201, "strokeWidth": 5, "opacity": 1, "strokeCap": "butt"},
 "encoding": {
  "shape": {"field": "series", "type": "nominal", "scale": {"domain": ["Phi = 0 CoPol","Phi = 0 CxPol","Phi = 45 CoPol","Phi = 45 CxPol","Phi = 90 CoPol","Phi = 90 CxPol","Phi = 135 CoPol","Phi = 135 CxPol"], "range": ["M-0.6,0H0.6","M-1,0H-0.05M0.05,0H1","M-0.6,0H0.6","M-1,0H-0.05M0.05,0H1","M-0.6,0H0.6","M-1,0H-0.05M0.05,0H1","M-0.6,0H0.6","M-1,0H-0.05M0.05,0H1"]}, "legend": null},
  "color": {"field": "series", "type": "nominal", "scale": {"domain": ["Phi = 0 CoPol","Phi = 0 CxPol","Phi = 45 CoPol","Phi = 45 CxPol","Phi = 90 CoPol","Phi = 90 CxPol","Phi = 135 CoPol","Phi = 135 CxPol"], "range": ["#000000","#000000","#0000A0","#0000A0","#FF0000","#FF0000","#008000","#008000"]}, "legend": null}
 }},
{"mark": {"type": "text", "yOffset": 23, "fontSize": 16, "font": "Liberation Sans", "color": "#000", "baseline": "middle", "align": "center"},
 "encoding": {"text": {"field": "series", "type": "nominal"}}}
]
},
{
"width": 699, "height": 617,
"data": {"name": "curves"},
"layer": [
{"mark": {"type": "line", "strokeWidth": 1.3, "clip": true},
 "encoding": {
  "x": {"field": "theta", "type": "quantitative", "scale": {"domain": [-75.3, 75.3], "nice": false, "zero": false},
   "axis": {"values": [-60,-40,-20,0,20,40,60], "labelExpr": "replace(datum.label, '\u2212', '-')", "grid": true, "gridColor": "#000", "gridWidth": 1.5, "gridOpacity": 1, "domainColor": "#000", "domainWidth": 1.5, "tickColor": "#000", "tickWidth": 1.5, "tickSize": 14, "labelFont": "Liberation Sans", "labelFontSize": 16, "labelColor": "#000", "labelPadding": 2, "labelFlush": false, "labelOverlap": false, "title": "Theta (deg)", "titleFont": "Liberation Sans", "titleFontSize": 16, "titleFontWeight": "normal", "titleColor": "#000", "titlePadding": 2}},
  "y": {"field": "dB", "type": "quantitative", "scale": {"domain": [-60, 0], "nice": false},
   "axis": {"values": [-60,-55,-50,-45,-40,-35,-30,-25,-20,-15,-10,-5,0], "labelExpr": "replace(datum.label, '\u2212', '-')", "grid": true, "gridColor": "#000", "gridWidth": 1.5, "gridOpacity": 1, "domainColor": "#000", "domainWidth": 1.5, "tickColor": "#000", "tickWidth": 1.5, "tickSize": 11, "labelFont": "Liberation Sans", "labelFontSize": 16, "labelColor": "#000", "labelPadding": 2, "labelFlush": false, "labelOverlap": false, "title": "Amplitude (dB)", "titleFont": "Liberation Sans", "titleFontSize": 17, "titleFontWeight": "normal", "titleColor": "#000", "titlePadding": 10}},
  "color": {"field": "series", "type": "nominal", "scale": {"domain": ["Phi = 0 CoPol","Phi = 0 CxPol","Phi = 45 CoPol","Phi = 45 CxPol","Phi = 90 CoPol","Phi = 90 CxPol","Phi = 135 CoPol","Phi = 135 CxPol"], "range": ["#000000","#000000","#0000A0","#0000A0","#FF0000","#FF0000","#008000","#008000"]}, "legend": null},
  "strokeDash": {"field": "series", "type": "nominal", "scale": {"domain": ["Phi = 0 CoPol","Phi = 0 CxPol","Phi = 45 CoPol","Phi = 45 CxPol","Phi = 90 CoPol","Phi = 90 CxPol","Phi = 135 CoPol","Phi = 135 CxPol"], "range": [[22,5],[1,0],[22,5],[1,0],[22,5],[1,0],[22,5],[1,0]]}, "legend": null}
 }},
{"mark": {"type": "line", "opacity": 0},
 "encoding": {
  "x": {"field": "theta", "type": "quantitative", "axis": {"orient": "bottom", "values": [-70,-65,-55,-50,-45,-35,-30,-25,-15,-10,-5,5,10,15,25,30,35,45,50,55,65,70], "offset": -10, "tickSize": 10, "tickColor": "#c4c4c4", "tickWidth": 1.5, "labels": false, "domain": false, "grid": false, "title": null}},
  "y": {"field": "dB", "type": "quantitative", "axis": {"orient": "left", "values": [-59,-58,-57,-56,-54,-53,-52,-51,-49,-48,-47,-46,-44,-43,-42,-41,-39,-38,-37,-36,-34,-33,-32,-31,-29,-28,-27,-26,-24,-23,-22,-21,-19,-18,-17,-16,-14,-13,-12,-11,-9,-8,-7,-6,-4,-3,-2,-1], "offset": -10, "tickSize": 10, "tickColor": "#c4c4c4", "tickWidth": 1.5, "labels": false, "domain": false, "grid": false, "title": null}},
  "detail": {"field": "series", "type": "nominal"}
 }}
],
"resolve": {"axis": {"x": "independent", "y": "independent"}}
}
]
}
